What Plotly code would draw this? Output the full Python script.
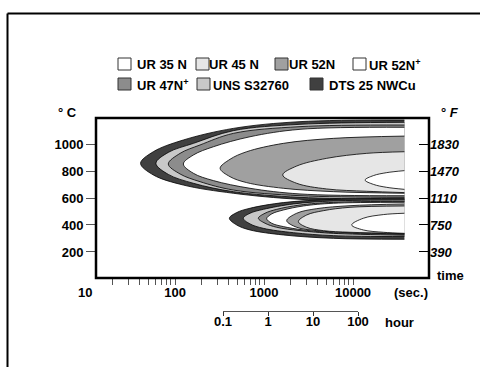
import math
import plotly.graph_objects as go

# ---------------- data ----------------
GRADES = ["DTS 25 NWCu", "UNS S32760", "UR 47N+", "UR 52N+", "UR 52N", "UR 45 N", "UR 35 N"]
FILLS = ["#404040", "#c8c8c8", "#8c8c8c", "#ffffff", "#a0a0a0", "#e6e6e6", "#ffffff"]

# sigma-phase C-curves (upper nose): time (s), temperature (deg C)
SIGMA_T = {
    "DTS 25 NWCu": [38000, 2535, 452, 124, 57, 41, 57, 124, 452, 2535, 38000],
    "UNS S32760": [38000, 2535, 452, 161, 84, 61, 84, 161, 452, 2535, 38000],
    "UR 47N+": [38000, 2535, 452, 191, 114, 84, 114, 191, 452, 2535, 38000],
    "UR 52N+": [38000, 2535, 696, 270, 161, 124, 161, 270, 696, 2535, 38000],
    "UR 52N": [38000, 6011, 1648, 638, 415, 321, 415, 638, 1648, 6011, 38000],
    "UR 45 N": [38000, 14250, 5058, 2329, 1622, 2329, 5058, 14250, 38000],
    "UR 35 N": [38000, 23900, 16920, 13650, 16920, 23900, 38000],
}
SIGMA_C = {
    "DTS 25 NWCu": [1178, 1166, 1116, 1030, 943, 857, 771, 696, 635, 590, 573],
    "UNS S32760": [1161, 1146, 1099, 1005, 938, 857, 775, 709, 647, 605, 590],
    "UR 47N+": [1141, 1129, 1079, 993, 931, 852, 778, 721, 659, 617, 605],
    "UR 52N+": [1124, 1109, 1054, 980, 919, 852, 783, 729, 672, 630, 617],
    "UR 52N": [1059, 1042, 1005, 943, 887, 820, 758, 714, 672, 647, 635],
    "UR 45 N": [943, 931, 894, 837, 771, 709, 667, 650, 640],
    "UR 35 N": [803, 788, 766, 733, 701, 679, 664],
}
# alpha-prime C-curves (lower nose)
ALPHA_T = {
    "DTS 25 NWCu": [38000, 6011, 1648, 696, 493, 408, 493, 696, 1648, 6011, 38000],
    "UNS S32760": [38000, 6011, 2138, 984, 696, 585, 696, 984, 2138, 6011, 38000],
    "UR 47N+": [38000, 6011, 2535, 1389, 1026, 863, 1026, 1389, 2535, 6011, 38000],
    "UR 52N+": [38000, 6011, 2768, 1648, 1219, 1071, 1219, 1648, 2768, 6011, 38000],
    "UR 52N": [38000, 9250, 3906, 2329, 1798, 2329, 3906, 9250, 38000],
    "UR 45 N": [38000, 9250, 4645, 3011, 2432, 3011, 4645, 9250, 38000],
    "UR 35 N": [38000, 21900, 13060, 9660, 13060, 21900, 38000],
}
ALPHA_C = {
    "DTS 25 NWCu": [598, 590, 566, 524, 492, 450, 400, 363, 326, 301, 294],
    "UNS S32760": [585, 578, 556, 516, 487, 450, 408, 375, 343, 321, 314],
    "UR 47N+": [575, 568, 548, 516, 487, 450, 413, 383, 358, 338, 324],
    "UR 52N+": [568, 561, 541, 511, 482, 447, 413, 388, 363, 343, 331],
    "UR 52N": [556, 543, 521, 487, 432, 383, 358, 343, 334],
    "UR 45 N": [541, 531, 506, 474, 425, 383, 358, 346, 338],
    "UR 35 N": [487, 477, 450, 400, 363, 346, 338],
}

C_TICKS = [200, 400, 600, 800, 1000]
F_LABELS = ["390", "750", "1110", "1470", "1830"]
SEC_MAJOR = [100, 1000, 10000]
SEC_MINOR = [20, 30, 40, 50, 60, 70, 80, 90,
             200, 300, 400, 500, 600, 700, 800, 900,
             2000, 3000, 4000, 5000, 6000, 7000, 8000, 9000]
HOUR_TICKS = [0.1, 1, 10, 100]
HOUR_LABELS = ["0.1", "1", "10", "100"]

LEGEND_ROW1 = ["UR 35 N", "UR 45 N", "UR 52N", "UR 52N+"]
LEGEND_ROW2 = ["UR 47N+", "UNS S32760", "DTS 25 NWCu"]
LEGEND_FILL = {"UR 35 N": "#ffffff", "UR 45 N": "#e6e6e6", "UR 52N": "#a0a0a0",
               "UR 52N+": "#ffffff", "UR 47N+": "#8c8c8c", "UNS S32760": "#c8c8c8",
               "DTS 25 NWCu": "#404040"}

# ---------------- layout helpers ----------------
W, H = 480, 367
ML, MR, MT, MB = 96, 51, 118, 56
PW, PH = W - ML - MR, H - MT - MB


def px(x):
    return (x - ML) / PW


def py(y):
    return (H - MB - y) / PH


FONT = "Liberation Sans, Arial, sans-serif"

fig = go.Figure()

fill_of = dict(zip(GRADES, FILLS))
for family_t, family_c in ((SIGMA_T, SIGMA_C), (ALPHA_T, ALPHA_C)):
    for g in GRADES:
        fig.add_trace(go.Scatter(
            x=family_t[g], y=family_c[g],
            mode="lines", fill="toself", fillcolor=fill_of[g],
            line=dict(color="#000000", width=0.8, shape="spline", smoothing=1.0),
            showlegend=False, hoverinfo="skip", xaxis="x", yaxis="y"))

# anchor traces for the secondary axes
fig.add_trace(go.Scatter(x=[None] * len(C_TICKS), y=[None] * len(C_TICKS), xaxis="x", yaxis="y2",
                         showlegend=False, hoverinfo="skip"))
fig.add_trace(go.Scatter(x=HOUR_TICKS, y=[None] * len(HOUR_TICKS), xaxis="x2", yaxis="y",
                         showlegend=False, hoverinfo="skip"))

x_lo = 1.112
x_hi = math.log10(38000)
x_dom_hi = px(ML + (x_hi - x_lo) * 89)

fig.update_layout(
    width=W, height=H,
    margin=dict(l=ML, r=MR, t=MT, b=MB, pad=0),
    paper_bgcolor="white", plot_bgcolor="rgba(0,0,0,0)",
    font=dict(family=FONT, size=13, color="black"),
    showlegend=False,
    xaxis=dict(type="log", range=[x_lo, x_hi], domain=[0, x_dom_hi], anchor="y",
               showgrid=False, zeroline=False, showline=False,
               ticks="outside", ticklen=6, tickwidth=1, tickcolor="#555555",
               tickvals=SEC_MAJOR, ticktext=[str(v) for v in SEC_MAJOR], ticklabelstandoff=-4,
               minor=dict(tickmode="array", tickvals=SEC_MINOR, ticks="outside", ticklen=6,
                          tickwidth=1, tickcolor="#555555", showgrid=False),
               tickfont=dict(family=FONT, size=13, weight="bold")),
    yaxis=dict(range=[7, 1193], domain=[py(278), 1], anchor="x",
               showgrid=False, zeroline=False, showline=False,
               ticks="outside", ticklen=9, tickwidth=1, tickcolor="#555555",
               tickvals=C_TICKS, ticktext=[str(v) for v in C_TICKS],
               tickfont=dict(family=FONT, size=13, weight="bold")),
    yaxis2=dict(range=[7, 1193], overlaying="y", side="right", anchor="free", position=1.0,
                showgrid=False, zeroline=False, showline=False,
                ticks="inside", ticklen=10, tickwidth=1, tickcolor="#000000",
                tickvals=C_TICKS, ticktext=F_LABELS,
                tickfont=dict(family=FONT, size=13, weight="bold", style="italic")),
    xaxis2=dict(type="log", range=[-1, 2], domain=[px(223), px(358)], anchor="free", position=0,
                showgrid=False, zeroline=False, showline=True, linecolor="#555555", linewidth=1,
                ticks="outside", ticklen=4, tickwidth=1, tickcolor="#333333",
                tickvals=HOUR_TICKS, ticktext=HOUR_LABELS, ticklabelstandoff=-6,
                tickfont=dict(family=FONT, size=13, weight="bold")),
)

shapes = []
# plot frame
shapes.append(dict(type="rect", xref="paper", yref="paper", x0=0, x1=1, y0=py(278), y1=1,
                   line=dict(color="black", width=2.5), fillcolor="rgba(0,0,0,0)", layer="above"))
# outer figure border (top and left)
shapes.append(dict(type="line", xref="paper", yref="paper", x0=px(7.5), x1=px(480), y0=py(13.5), y1=py(13.5),
                   line=dict(color="black", width=2)))
shapes.append(dict(type="line", xref="paper", yref="paper", x0=px(7.5), x1=px(7.5), y0=py(13.5), y1=py(367),
                   line=dict(color="black", width=2)))

annotations = []


def text(x, y, s, xanchor="center", italic=False):
    annotations.append(dict(x=px(x), y=py(y), xref="paper", yref="paper", text=s, showarrow=False,
                            xanchor=xanchor, yanchor="middle",
                            font=dict(family=FONT, size=13, weight="bold",
                                      style="italic" if italic else "normal")))


# legend (manual layout to match the two staggered rows)
box_x1 = [118, 196, 275, 353]
txt_x1 = [135, 207, 287, 367]
box_x2 = [118, 197, 310]
txt_x2 = [135, 211, 327]
for names, bx, tx, yc in ((LEGEND_ROW1, box_x1, txt_x1, 64), (LEGEND_ROW2, box_x2, txt_x2, 84)):
    for name, x0, x1t in zip(names, bx, tx):
        shapes.append(dict(type="rect", xref="paper", yref="paper", x0=px(x0), x1=px(x0 + 13),
                           y0=py(yc + 6), y1=py(yc - 6), line=dict(color="#333333", width=1),
                           fillcolor=LEGEND_FILL[name]))
        label = name.replace("+", "<sup>+</sup>")
        text(x1t, yc + 1, label, xanchor="left")

text(67, 113, "° C")
text(450, 113, "° <i>F</i>")
text(85, 292, "10")
text(411, 292, "(sec.)")
text(450, 275, "time")
text(399, 322, "hour")

fig.update_layout(shapes=shapes, annotations=annotations)
fig.write_html("out.html", config={"displayModeBar": False},
               post_script="document.body.style.margin='0px';")
